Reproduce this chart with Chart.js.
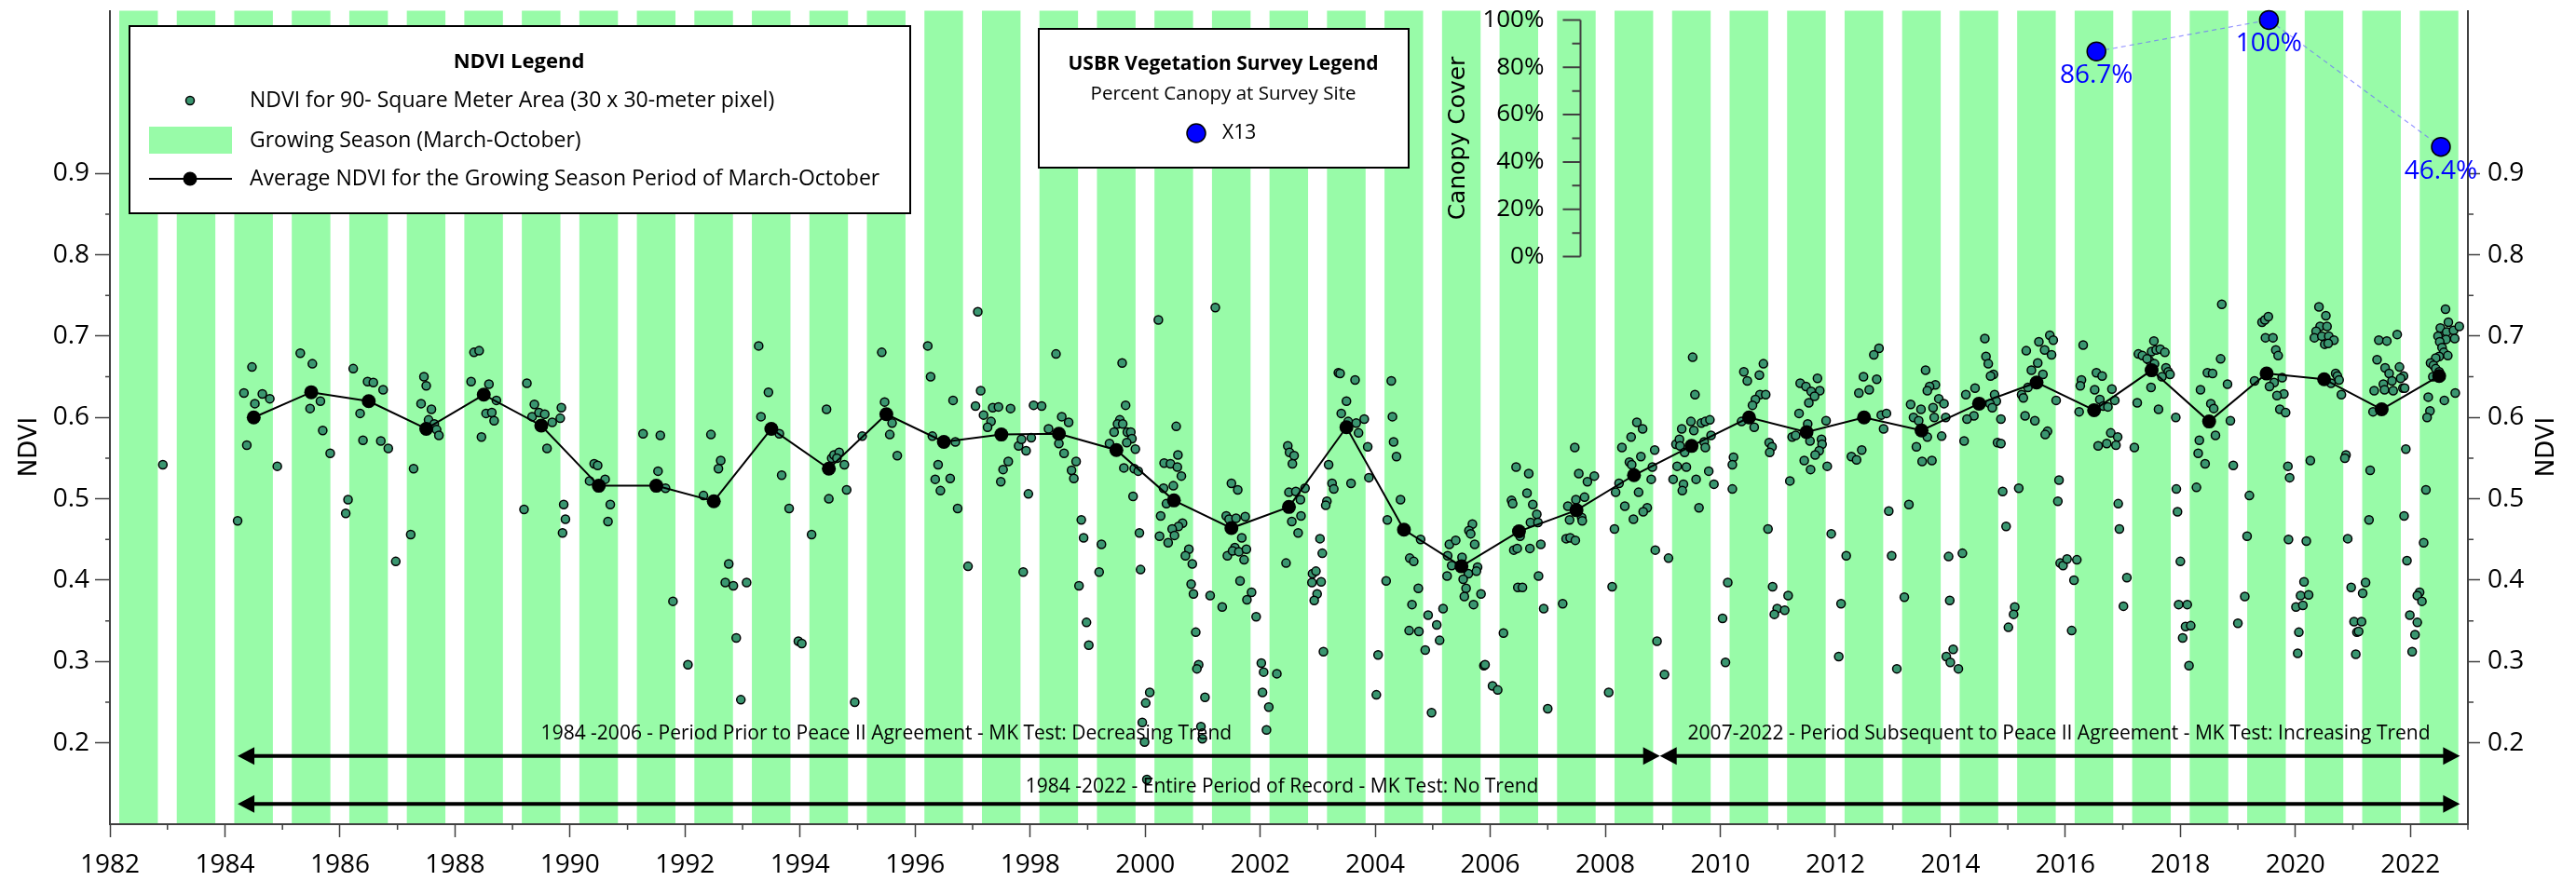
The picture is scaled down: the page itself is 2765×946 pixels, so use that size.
<!DOCTYPE html>
<html lang="en">
<head>
<meta charset="UTF-8">
<title>NDVI Growing Season and Canopy Cover</title>
<script src="https://cdn.jsdelivr.net/npm/chart.js@4.4.1/dist/chart.umd.min.js"></script>
<style>
  html, body { margin: 0; padding: 0; background: #fff; }
  #wrap { width: 2765px; height: 946px; }
</style>
</head>
<body>
<div id="wrap"><canvas id="ndviChart" width="2765" height="946"></canvas></div>
<script>
// ---- data ----
// NDVI observations, [decimal year, NDVI]
const obs1980s = [
  [1982.92,0.542],[1984.22,0.473],[1984.47,0.662],[1984.33,0.630],[1984.65,0.629],[1984.78,0.623],[1984.52,0.617],
  [1984.38,0.566],[1984.91,0.540],[1985.31,0.679],[1985.52,0.666],[1985.66,0.620],[1985.48,0.611],[1985.70,0.584],
  [1985.83,0.556],[1986.23,0.660],[1986.48,0.644],[1986.58,0.643],[1986.75,0.634],[1986.35,0.605],[1986.40,0.572],
  [1986.71,0.571],[1986.84,0.562],[1986.14,0.499],[1986.10,0.482],[1986.97,0.423],[1987.46,0.650],[1987.50,0.639],
  [1987.41,0.617],[1987.59,0.610],[1987.54,0.597],[1987.64,0.592],[1987.68,0.585],[1987.72,0.578],[1987.28,0.537],
  [1987.23,0.456],[1988.33,0.680],[1988.42,0.682],[1988.28,0.644],[1988.59,0.641],[1988.72,0.621],[1988.54,0.605],
  [1988.64,0.606],[1988.68,0.596],[1988.46,0.576],[1989.25,0.642],[1989.38,0.616],[1989.34,0.601],[1989.46,0.606],
  [1989.56,0.604],[1989.69,0.594],[1989.85,0.612],[1989.83,0.599],[1989.60,0.562],[1989.20,0.487],[1989.89,0.493],
  [1989.92,0.475],[1989.87,0.458]
];
const obs1990s = [
  [1990.42,0.543],[1990.48,0.541],[1990.34,0.522],[1990.61,0.524],[1990.70,0.493],[1990.66,0.472],[1991.27,0.580],
  [1991.57,0.578],[1991.53,0.534],[1991.66,0.513],[1991.79,0.374],[1992.05,0.296],[1992.45,0.579],[1992.62,0.547],
  [1992.58,0.537],[1992.32,0.504],[1992.76,0.420],[1992.70,0.397],[1992.84,0.393],[1993.07,0.397],[1992.89,0.329],
  [1992.97,0.253],[1993.28,0.688],[1993.45,0.631],[1993.32,0.601],[1993.64,0.580],[1993.68,0.529],[1993.81,0.488],
  [1993.97,0.325],[1994.03,0.322],[1994.20,0.456],[1994.46,0.610],[1994.55,0.550],[1994.59,0.554],[1994.68,0.557],
  [1994.64,0.550],[1994.77,0.542],[1994.81,0.511],[1994.50,0.500],[1994.95,0.250],[1995.08,0.577],[1995.42,0.680],
  [1995.47,0.619],[1995.60,0.593],[1995.56,0.579],[1995.69,0.553],[1996.22,0.688],[1996.27,0.650],[1996.66,0.621],
  [1996.30,0.577],[1996.40,0.542],[1996.35,0.524],[1996.61,0.525],[1996.44,0.510],[1996.74,0.488],[1996.70,0.570],
  [1996.92,0.417],[1997.09,0.730],[1997.14,0.633],[1997.05,0.614],[1997.19,0.603],[1997.32,0.595],[1997.26,0.588],
  [1997.35,0.612],[1997.45,0.613],[1997.66,0.611],[1997.62,0.546],[1997.53,0.536],[1997.49,0.521],[1997.80,0.565],
  [1997.85,0.573],[1997.93,0.559],[1997.97,0.506],[1997.88,0.410],[1998.06,0.615],[1998.20,0.614],[1998.02,0.575],
  [1998.45,0.678],[1998.32,0.586],[1998.55,0.601],[1998.67,0.594],[1998.50,0.568],[1998.59,0.556],[1998.80,0.546],
  [1998.72,0.535],[1998.76,0.525],[1998.89,0.474],[1998.93,0.452],[1998.85,0.393],[1998.98,0.348],[1999.02,0.320],
  [1999.24,0.444],[1999.20,0.410],[1999.60,0.667],[1999.66,0.615],[1999.56,0.597],[1999.52,0.592],[1999.61,0.592],
  [1999.46,0.582],[1999.69,0.582],[1999.75,0.582],[1999.77,0.574],[1999.38,0.568],[1999.68,0.569],[1999.83,0.561],
  [1999.63,0.538],[1999.81,0.537],[1999.88,0.534],[1999.79,0.503],[1999.90,0.458],[1999.92,0.413],[1999.95,0.225],
  [1999.99,0.201]
];
const obs2000s = [
  [2000.08,0.262],[2000.01,0.249],[2000.03,0.155],[2000.23,0.720],[2000.54,0.589],[2000.57,0.554],[2000.33,0.544],
  [2000.44,0.543],[2000.56,0.539],[2000.63,0.528],[2000.32,0.513],[2000.49,0.516],[2000.37,0.494],[2000.27,0.479],
  [2000.65,0.470],[2000.58,0.466],[2000.47,0.463],[2000.51,0.455],[2000.25,0.454],[2000.40,0.446],[2000.76,0.438],
  [2000.70,0.430],[2000.82,0.420],[2000.80,0.395],[2000.84,0.383],[2000.88,0.336],[2000.93,0.296],[2000.90,0.291],
  [2001.04,0.256],[2000.97,0.220],[2000.995,0.205],[2001.22,0.735],[2001.13,0.381],[2001.34,0.367],[2001.50,0.519],
  [2001.61,0.511],[2001.41,0.479],[2001.46,0.475],[2001.58,0.476],[2001.74,0.478],[2001.68,0.452],[2001.56,0.440],
  [2001.43,0.430],[2001.52,0.436],[2001.63,0.435],[2001.76,0.438],[2001.72,0.425],[2001.65,0.399],[2001.85,0.385],
  [2001.77,0.376],[2001.93,0.355],[2002.02,0.298],[2002.06,0.287],[2002.04,0.262],[2002.15,0.244],[2002.11,0.216],
  [2002.29,0.285],[2002.48,0.565],[2002.51,0.557],[2002.59,0.553],[2002.56,0.543],[2002.50,0.508],[2002.62,0.509],
  [2002.78,0.513],[2002.70,0.499],[2002.71,0.479],[2002.55,0.472],[2002.66,0.458],[2002.45,0.421],[2003.10,0.312],
  [2003.04,0.451],[2003.08,0.433],[2002.91,0.408],[2002.97,0.411],[2002.90,0.397],[2003.06,0.398],[2002.99,0.383],
  [2002.94,0.375],[2003.36,0.655],[2003.39,0.654],[2003.65,0.646],[2003.50,0.620],[2003.41,0.605],[2003.53,0.595],
  [2003.67,0.593],[2003.81,0.598],[2003.71,0.581],[2003.87,0.564],[2003.19,0.542],[2003.25,0.519],[2003.28,0.512],
  [2003.16,0.497],[2003.14,0.492],[2003.58,0.519],[2003.89,0.526],[2004.28,0.645],[2004.30,0.601],[2004.32,0.570],
  [2004.37,0.552],[2004.21,0.474],[2004.19,0.399],[2004.02,0.259],[2004.05,0.308],[2004.44,0.499],[2004.79,0.450],
  [2004.60,0.427],[2004.67,0.423],[2004.75,0.390],[2004.64,0.370],[2004.59,0.338],[2004.76,0.337],[2004.92,0.357],
  [2004.87,0.314],[2005.07,0.345],[2005.12,0.326],[2005.18,0.365],[2004.98,0.237],[2005.29,0.444],[2005.40,0.449],
  [2005.69,0.469],[2005.63,0.461],[2005.66,0.457],[2005.73,0.444],[2005.26,0.430],[2005.33,0.418],[2005.51,0.428],
  [2005.78,0.416],[2005.62,0.408],[2005.25,0.405],[2005.53,0.401],[2005.76,0.411],[2005.58,0.390],[2005.84,0.383],
  [2005.55,0.380],[2005.71,0.370],[2005.89,0.295],[2005.91,0.296],[2006.04,0.270],[2006.13,0.265],[2006.23,0.335],
  [2006.45,0.539],[2006.67,0.531],[2006.37,0.498],[2006.39,0.494],[2006.64,0.507],[2006.74,0.493],[2006.81,0.481],
  [2006.70,0.471],[2006.83,0.471],[2006.52,0.454],[2006.41,0.437],[2006.47,0.439],[2006.69,0.439],[2006.88,0.444],
  [2006.84,0.405],[2006.48,0.391],[2006.56,0.391],[2006.93,0.365],[2007.00,0.242],[2007.47,0.563],[2007.54,0.531],
  [2007.69,0.521],[2007.81,0.528],[2007.64,0.502],[2007.49,0.499],[2007.35,0.491],[2007.38,0.474],[2007.59,0.477],
  [2007.60,0.473],[2007.32,0.451],[2007.39,0.452],[2007.48,0.449],[2007.26,0.371],[2008.12,0.392],[2008.06,0.262],
  [2008.29,0.563],[2008.45,0.576],[2008.55,0.594],[2008.65,0.586],[2008.62,0.552],[2008.86,0.560],[2008.82,0.539],
  [2008.42,0.545],[2008.46,0.542],[2008.24,0.519],[2008.18,0.508],[2008.80,0.524],[2008.58,0.508],[2008.34,0.491],
  [2008.73,0.489],[2008.66,0.484],[2008.49,0.475],[2008.16,0.463],[2008.87,0.437],[2009.10,0.427],[2008.90,0.325],
  [2009.03,0.284],[2009.18,0.524],[2009.23,0.567],[2009.25,0.540],[2009.52,0.674],[2009.56,0.628],[2009.33,0.586],
  [2009.49,0.595],[2009.54,0.584],[2009.67,0.593],[2009.74,0.595],[2009.82,0.597],[2009.84,0.578],[2009.72,0.570],
  [2009.74,0.563],[2009.29,0.573],[2009.30,0.565],[2009.38,0.557],[2009.41,0.539],[2009.58,0.524],[2009.80,0.534],
  [2009.36,0.518],[2009.34,0.510],[2009.89,0.518],[2009.63,0.489]
];
const obs2010s = [
  [2010.13,0.397],[2010.04,0.353],[2010.09,0.299],[2010.21,0.512],[2010.41,0.656],[2010.47,0.645],[2010.75,0.666],
  [2010.68,0.652],[2010.69,0.628],[2010.79,0.628],[2010.61,0.622],[2010.56,0.615],[2010.37,0.595],[2010.59,0.588],
  [2010.23,0.551],[2010.21,0.542],[2010.85,0.569],[2010.90,0.564],[2010.86,0.557],[2010.83,0.463],[2010.91,0.392],
  [2010.99,0.365],[2010.94,0.358],[2011.12,0.363],[2011.18,0.381],[2011.39,0.642],[2011.49,0.638],[2011.69,0.648],
  [2011.58,0.632],[2011.73,0.633],[2011.64,0.626],[2011.54,0.618],[2011.37,0.605],[2011.52,0.592],[2011.84,0.596],
  [2011.25,0.576],[2011.31,0.578],[2011.56,0.571],[2011.76,0.573],[2011.77,0.567],[2011.72,0.559],[2011.65,0.554],
  [2011.46,0.547],[2011.57,0.536],[2011.86,0.540],[2011.21,0.522],[2011.93,0.457],[2012.19,0.430],[2012.10,0.371],
  [2012.06,0.306],[2012.76,0.685],[2012.67,0.677],[2012.49,0.650],[2012.72,0.647],[2012.59,0.634],[2012.41,0.630],
  [2012.80,0.603],[2012.89,0.605],[2012.84,0.586],[2012.46,0.560],[2012.28,0.552],[2012.37,0.548],[2012.93,0.485],
  [2012.98,0.430],[2013.07,0.291],[2013.20,0.379],[2013.28,0.493],[2013.57,0.658],[2013.74,0.640],[2013.64,0.638],
  [2013.60,0.633],[2013.31,0.616],[2013.49,0.610],[2013.70,0.612],[2013.80,0.623],[2013.89,0.617],[2013.36,0.600],
  [2013.45,0.596],[2013.72,0.600],[2013.92,0.600],[2013.60,0.576],[2013.85,0.577],[2013.41,0.564],[2013.51,0.546],
  [2013.68,0.547],[2013.97,0.429],[2014.21,0.433],[2013.99,0.375],[2013.93,0.306],[2014.05,0.315],[2014.00,0.299],
  [2014.14,0.291],[2014.60,0.697],[2014.62,0.675],[2014.66,0.666],[2014.75,0.653],[2014.70,0.651],[2014.43,0.636],
  [2014.27,0.628],[2014.77,0.628],[2014.80,0.620],[2014.69,0.617],[2014.73,0.612],[2014.41,0.602],[2014.29,0.598],
  [2014.88,0.598],[2014.24,0.571],[2014.82,0.569],[2014.88,0.568],[2014.91,0.509],[2015.19,0.513],[2014.97,0.466],
  [2015.12,0.367],[2015.10,0.358],[2015.01,0.342],[2015.73,0.701],[2015.79,0.695],[2015.54,0.693],[2015.64,0.683],
  [2015.32,0.682],[2015.76,0.677],[2015.52,0.667],[2015.41,0.658],[2015.61,0.653],[2015.35,0.637],[2015.24,0.628],
  [2015.27,0.624],[2015.84,0.621],[2015.30,0.602],[2015.47,0.596],[2015.69,0.583],[2015.65,0.579],[2015.89,0.523],
  [2015.87,0.497],[2015.91,0.421],[2015.96,0.418],[2016.03,0.426],[2016.15,0.400],[2016.11,0.338],[2016.20,0.425],
  [2016.31,0.689],[2016.28,0.646],[2016.26,0.639],[2016.54,0.655],[2016.64,0.651],[2016.51,0.634],[2016.81,0.635],
  [2016.60,0.622],[2016.86,0.621],[2016.66,0.614],[2016.74,0.613],[2016.24,0.607],[2016.79,0.581],[2016.91,0.576],
  [2016.72,0.568],[2016.88,0.566],[2016.57,0.565],[2017.20,0.563],[2016.92,0.494],[2016.94,0.463],[2017.07,0.403],
  [2017.01,0.368],[2017.54,0.694],[2017.27,0.678],[2017.34,0.676],[2017.50,0.681],[2017.58,0.683],[2017.65,0.684],
  [2017.73,0.680],[2017.46,0.670],[2017.42,0.672],[2017.55,0.666],[2017.75,0.661],[2017.79,0.656],[2017.82,0.653],
  [2017.68,0.650],[2017.49,0.637],[2017.25,0.618],[2017.62,0.610],[2017.92,0.600],[2017.93,0.512],[2017.95,0.484],
  [2018.00,0.423],[2017.97,0.370],[2018.12,0.370],[2018.09,0.343],[2018.18,0.344],[2018.04,0.329],[2018.15,0.295],
  [2018.72,0.739],[2018.70,0.672],[2018.47,0.655],[2018.56,0.654],[2018.82,0.641],[2018.35,0.634],[2018.53,0.617],
  [2018.58,0.611],[2018.87,0.596],[2018.61,0.578],[2018.33,0.572],[2018.31,0.556],[2018.43,0.543],[2018.92,0.541],
  [2018.28,0.514],[2019.20,0.504],[2019.16,0.454],[2019.12,0.380],[2019.00,0.347],[2019.42,0.717],[2019.47,0.720],
  [2019.53,0.724],[2019.48,0.698],[2019.61,0.698],[2019.66,0.683],[2019.70,0.676],[2019.29,0.645],[2019.63,0.643],
  [2019.77,0.649],[2019.55,0.638],[2019.80,0.629],[2019.68,0.627],[2019.73,0.610],[2019.83,0.606],[2019.87,0.540],
  [2019.90,0.526],[2019.88,0.450]
];
const obs2020s = [
  [2020.19,0.448],[2020.26,0.547],[2020.15,0.398],[2020.09,0.381],[2020.23,0.382],[2020.01,0.367],[2020.13,0.369],
  [2020.06,0.336],[2020.04,0.310],[2020.41,0.736],[2020.53,0.725],[2020.43,0.712],[2020.55,0.712],[2020.36,0.706],
  [2020.33,0.698],[2020.46,0.700],[2020.58,0.700],[2020.67,0.695],[2020.51,0.690],[2020.57,0.691],[2020.70,0.654],
  [2020.73,0.651],[2020.76,0.646],[2020.62,0.642],[2020.80,0.628],[2020.88,0.554],[2020.86,0.550],[2020.91,0.451],
  [2020.97,0.391],[2021.22,0.397],[2021.17,0.384],[2021.02,0.349],[2021.15,0.349],[2021.07,0.336],[2021.10,0.337],
  [2021.05,0.309],[2021.45,0.695],[2021.59,0.694],[2021.77,0.702],[2021.42,0.671],[2021.56,0.661],[2021.63,0.654],
  [2021.81,0.662],[2021.88,0.651],[2021.83,0.648],[2021.53,0.641],[2021.68,0.645],[2021.37,0.633],[2021.55,0.634],
  [2021.70,0.633],[2021.87,0.636],[2021.90,0.636],[2021.35,0.607],[2021.30,0.535],[2021.28,0.474],[2021.92,0.561],
  [2021.89,0.479],[2021.94,0.424],[2021.99,0.357],[2022.12,0.348],[2022.08,0.333],[2022.03,0.312],[2022.61,0.733],
  [2022.66,0.717],[2022.52,0.710],[2022.63,0.705],[2022.75,0.707],[2022.85,0.712],[2022.48,0.700],[2022.62,0.696],
  [2022.77,0.697],[2022.51,0.693],[2022.55,0.686],[2022.58,0.680],[2022.50,0.675],[2022.65,0.676],[2022.44,0.673],
  [2022.35,0.667],[2022.40,0.664],[2022.44,0.660],[2022.50,0.656],[2022.39,0.650],[2022.31,0.625],[2022.59,0.621],
  [2022.78,0.630],[2022.34,0.608],[2022.29,0.600],[2022.27,0.511],[2022.23,0.446],[2022.16,0.385],[2022.12,0.381],
  [2022.20,0.374]
];

// growing season average (plotted mid-year)
const avgYears = [1984.5,1985.5,1986.5,1987.5,1988.5,1989.5,1990.5,1991.5,1992.5,1993.5,1994.5,1995.5,1996.5,
  1997.5,1998.5,1999.5,2000.5,2001.5,2002.5,2003.5,2004.5,2005.5,2006.5,2007.5,2008.5,2009.5,2010.5,2011.5,
  2012.5,2013.5,2014.5,2015.5,2016.5,2017.5,2018.5,2019.5,2020.5,2021.5,2022.5];
const avgNdvi = [0.600,0.631,0.620,0.586,0.628,0.590,0.516,0.516,0.497,0.586,0.537,0.604,0.570,
  0.579,0.580,0.560,0.498,0.464,0.490,0.588,0.462,0.417,0.460,0.486,0.529,0.565,0.600,0.582,
  0.600,0.584,0.617,0.643,0.609,0.658,0.595,0.654,0.647,0.610,0.651];

// growing seasons (March-October)
const seasonYears = [1982,1983,1984,1985,1986,1987,1988,1989,1990,1991,1992,1993,1994,1995,1996,1997,1998,
  1999,2000,2001,2002,2003,2004,2005,2006,2007,2008,2009,2010,2011,2012,2013,2014,2015,2016,2017,2018,
  2019,2020,2021,2022];

// USBR vegetation survey, site X13
const canopyYears = [2016.54, 2019.54, 2022.53];
const canopyPct = [86.7, 100, 46.4];

// trend periods (arrows)
const periodStart = [1984.22, 2008.95, 1984.22];
const periodEnd = [2008.95, 2022.86, 2022.86];
const periodLevel = [0.184, 0.184, 0.125];
const periodText = [
  '1984 -2006 - Period Prior to Peace II Agreement - MK Test: Decreasing Trend',
  '2007-2022 - Period Subsequent to Peace II Agreement - MK Test: Increasing Trend',
  '1984 -2022 - Entire Period of Record - MK Test: No Trend'
];
const periodTextX = [1995.5, 2015.89, 2002.38];
const periodTextY = [0.211, 0.211, 0.146];

// tick labels
const yearTicks = [1982,1984,1986,1988,1990,1992,1994,1996,1998,2000,2002,2004,2006,2008,2010,2012,2014,
  2016,2018,2020,2022];
const ndviTicks = [0.2,0.3,0.4,0.5,0.6,0.7,0.8,0.9];
const canopyTicks = [0,20,40,60,80,100];

// ---- styling ----
const FONT = "'Open Sans', 'Noto Sans', sans-serif";
const TITLE_FONT = "'DejaVu Sans', Verdana, sans-serif";
const SEASON = '#98FBA8';
const OBS = '#3A9670';
const AXIS = '#404040';
Chart.defaults.font.family = FONT;
Chart.defaults.color = '#000';

const pairs = list => list.map(p => ({x: p[0], y: p[1]}));
const obsPoints = pairs([...obs1980s, ...obs1990s, ...obs2000s, ...obs2010s, ...obs2020s]);

function drawArrow(ctx, x0, x1, y) {
  const L = 18, H = 9.5;
  ctx.lineWidth = 4;
  ctx.beginPath(); ctx.moveTo(x0 + 8, y); ctx.lineTo(x1 - 8, y); ctx.stroke();
  ctx.beginPath(); ctx.moveTo(x0, y); ctx.lineTo(x0 + L, y - H); ctx.lineTo(x0 + L, y + H); ctx.closePath(); ctx.fill();
  ctx.beginPath(); ctx.moveTo(x1, y); ctx.lineTo(x1 - L, y - H); ctx.lineTo(x1 - L, y + H); ctx.closePath(); ctx.fill();
}

const decor = {
  id: 'decor',
  beforeDatasetsDraw(chart) {
    const {ctx, chartArea: a, scales: {x}} = chart;
    ctx.save();
    ctx.fillStyle = SEASON;
    seasonYears.forEach(yr => {
      const x0 = x.getPixelForValue(yr + 0.162);
      const x1 = x.getPixelForValue(yr + 0.833);
      ctx.fillRect(x0, a.top, x1 - x0, a.bottom - a.top - 1);
    });
    ctx.restore();
  },
  afterDraw(chart) {
    const {ctx, chartArea: a, scales: {x, y, y2}} = chart;
    ctx.save();

    // minor ticks
    ctx.strokeStyle = AXIS;
    ctx.lineWidth = 1.5;
    ctx.beginPath();
    for (let v = 0.25; v < 0.9; v += 0.1) {
      const py = y.getPixelForValue(v);
      ctx.moveTo(a.left - 5, py); ctx.lineTo(a.left, py);
      ctx.moveTo(a.right, py); ctx.lineTo(a.right + 6, py);
    }
    for (let yr = 1983; yr <= 2023; yr += 2) {
      const px = x.getPixelForValue(yr);
      ctx.moveTo(px, a.bottom); ctx.lineTo(px, a.bottom + 6);
    }
    ctx.stroke();

    // axis titles
    ctx.fillStyle = '#000';
    ctx.font = '26px ' + TITLE_FONT;
    ctx.textAlign = 'center';
    ctx.textBaseline = 'middle';
    [[32, 480], [2734, 480]].forEach(([tx, ty]) => {
      ctx.save(); ctx.translate(tx, ty); ctx.rotate(-Math.PI / 2);
      ctx.fillText('NDVI', 0, 0); ctx.restore();
    });

    // trend arrows + labels
    ctx.strokeStyle = '#000';
    ctx.fillStyle = '#000';
    periodStart.forEach((s, i) => {
      drawArrow(ctx, x.getPixelForValue(s), x.getPixelForValue(periodEnd[i]), y.getPixelForValue(periodLevel[i]));
    });
    ctx.font = '21px ' + FONT;
    periodText.forEach((t, i) => {
      ctx.fillText(t, x.getPixelForValue(periodTextX[i]), y.getPixelForValue(periodTextY[i]));
    });

    // canopy cover inset axis
    const ax = x.getPixelForValue(2007.57);
    ctx.strokeStyle = AXIS;
    ctx.lineWidth = 2;
    ctx.beginPath();
    ctx.moveTo(ax, y2.getPixelForValue(0)); ctx.lineTo(ax, y2.getPixelForValue(100));
    for (let v = 0; v <= 100; v += 10) {
      const py = y2.getPixelForValue(v);
      ctx.moveTo(ax - (v % 20 === 0 ? 19 : 9), py); ctx.lineTo(ax, py);
    }
    ctx.stroke();
    ctx.fillStyle = '#000';
    ctx.font = '26px ' + FONT;
    ctx.textAlign = 'right';
    canopyTicks.forEach(v => ctx.fillText(v + '%', ax - 39, y2.getPixelForValue(v)));
    ctx.font = '25px ' + TITLE_FONT;
    ctx.textAlign = 'center';
    ctx.save(); ctx.translate(ax - 131, y2.getPixelForValue(50)); ctx.rotate(-Math.PI / 2);
    ctx.fillText('Canopy Cover', 0, 0); ctx.restore();

    // canopy value labels
    ctx.fillStyle = '#0000FF';
    ctx.font = '28px ' + FONT;
    chart.getDatasetMeta(2).data.forEach((pt, i) => {
      ctx.fillText(canopyPct[i] + '%', pt.x, pt.y + 26);
    });

    // NDVI legend box
    ctx.fillStyle = '#fff';
    ctx.strokeStyle = '#000';
    ctx.lineWidth = 2;
    ctx.fillRect(139, 28, 838, 201);
    ctx.strokeRect(139, 28, 838, 201);
    ctx.fillStyle = '#000';
    ctx.font = 'bold 22px ' + FONT;
    ctx.textAlign = 'center';
    ctx.fillText('NDVI Legend', 557, 67);
    ctx.font = '23px ' + FONT;
    ctx.textAlign = 'left';
    ctx.fillText('NDVI for 90- Square Meter Area (30 x 30-meter pixel)', 268, 108);
    ctx.fillText('Growing Season (March-October)', 268, 151);
    ctx.fillText('Average NDVI for the Growing Season Period of March-October', 268, 192);
    ctx.beginPath(); ctx.arc(204, 108, 4.5, 0, Math.PI * 2);
    ctx.fillStyle = OBS; ctx.fill(); ctx.lineWidth = 1.5; ctx.stroke();
    ctx.fillStyle = SEASON; ctx.fillRect(160, 136, 89, 29);
    ctx.lineWidth = 2;
    ctx.beginPath(); ctx.moveTo(160, 192); ctx.lineTo(249, 192); ctx.stroke();
    ctx.fillStyle = '#000';
    ctx.beginPath(); ctx.arc(204, 192, 7.5, 0, Math.PI * 2); ctx.fill();

    // USBR legend box
    ctx.fillStyle = '#fff';
    ctx.fillRect(1115, 31, 397, 149);
    ctx.strokeRect(1115, 31, 397, 149);
    ctx.fillStyle = '#000';
    ctx.textAlign = 'center';
    ctx.font = 'bold 21px ' + FONT;
    ctx.fillText('USBR Vegetation Survey Legend', 1313, 69);
    ctx.font = '20.5px ' + FONT;
    ctx.fillText('Percent Canopy at Survey Site', 1313, 101);
    ctx.textAlign = 'left';
    ctx.font = '21px ' + FONT;
    ctx.fillText('X13', 1312, 143);
    ctx.beginPath(); ctx.arc(1284, 143, 10, 0, Math.PI * 2);
    ctx.fillStyle = '#0000FF'; ctx.fill(); ctx.lineWidth = 1.5; ctx.stroke();

    ctx.restore();
  }
};

const axisBase = {
  border: {color: AXIS, width: 2},
  grid: {drawOnChartArea: false, tickColor: AXIS, tickWidth: 1.5}
};
// keep the plot frame fixed: no extra room reserved for edge labels
const fixVertical = w => s => { s.width = w; s.paddingTop = 0; s.paddingBottom = 0; };

new Chart(document.getElementById('ndviChart'), {
  type: 'scatter',
  data: {
    datasets: [
      {
        label: 'Average NDVI for the Growing Season Period of March-October',
        data: avgYears.map((yr, i) => ({x: yr, y: avgNdvi[i]})),
        showLine: true,
        borderColor: '#000',
        borderWidth: 2,
        pointRadius: 7.5,
        pointBackgroundColor: '#000',
        pointBorderWidth: 0,
        order: 1
      },
      {
        label: 'NDVI for 90- Square Meter Area (30 x 30-meter pixel)',
        data: obsPoints,
        pointRadius: 4.5,
        pointBackgroundColor: OBS,
        pointBorderColor: '#000',
        pointBorderWidth: 1.5,
        order: 2
      },
      {
        label: 'X13',
        data: canopyYears.map((yr, i) => ({x: yr, y: canopyPct[i]})),
        yAxisID: 'y2',
        showLine: true,
        borderColor: 'rgba(110,110,255,0.7)',
        borderWidth: 1.2,
        borderDash: [5, 4],
        pointRadius: 10,
        pointBackgroundColor: '#0000FF',
        pointBorderColor: '#000',
        pointBorderWidth: 1.5,
        clip: false,
        order: 0
      }
    ]
  },
  options: {
    responsive: false,
    animation: false,
    events: [],
    layout: {padding: {top: 11, left: 0, right: 0, bottom: 0}},
    plugins: {legend: {display: false}, tooltip: {enabled: false}},
    scales: {
      x: {
        ...axisBase,
        type: 'linear',
        min: 1982,
        max: 2023,
        grid: {...axisBase.grid, tickLength: 14},
        afterBuildTicks: s => { s.ticks = yearTicks.map(v => ({value: v})); },
        afterFit: s => { s.height = 61; s.paddingLeft = 0; s.paddingRight = 0; },
        ticks: {font: {size: 28}, padding: 13, maxRotation: 0, autoSkip: false, callback: v => String(v)}
      },
      y: {
        ...axisBase,
        position: 'left',
        min: 0.1,
        max: 1.1,
        grid: {...axisBase.grid, tickLength: 16},
        afterBuildTicks: s => { s.ticks = ndviTicks.map(v => ({value: v})); },
        afterFit: fixVertical(118),
        ticks: {font: {size: 28}, padding: 6, callback: v => v.toFixed(1)}
      },
      yR: {
        ...axisBase,
        position: 'right',
        min: 0.1,
        max: 1.1,
        grid: {...axisBase.grid, tickLength: 13},
        afterBuildTicks: s => { s.ticks = ndviTicks.map(v => ({value: v})); },
        afterFit: fixVertical(116),
        ticks: {font: {size: 28}, padding: 8, callback: v => v.toFixed(1)}
      },
      y2: {
        display: false,
        min: -239.8,
        max: 103.9
      }
    }
  },
  plugins: [decor]
});
</script>
</body>
</html>
